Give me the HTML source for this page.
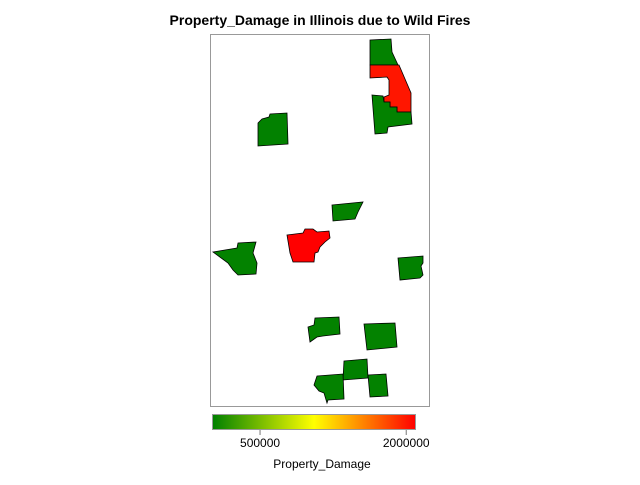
<!DOCTYPE html>
<html><head><meta charset="utf-8"><style>
body{margin:0;background:#fff;}
svg text{font-family:"Liberation Sans",Arial,sans-serif;}
</style></head><body>
<svg id="c" width="640" height="480" viewBox="0 0 640 480">
<defs><linearGradient id="g" x1="0" x2="1" y1="0" y2="0">
<stop offset="0" stop-color="#008000"/><stop offset="0.5" stop-color="#ffff00"/><stop offset="1" stop-color="#ff0000"/></linearGradient></defs>
<text x="320" y="25" text-anchor="middle" font-size="14" font-weight="bold">Property_Damage in Illinois due to Wild Fires</text>
<rect x="210.5" y="34.5" width="219" height="372" fill="#fff" stroke="#999"/>
<g id="counties"></g>
<rect x="212.5" y="414.5" width="203" height="15" fill="url(#g)" stroke="#999"/>
<g id="legend"></g>
<text x="322" y="468" text-anchor="middle" font-size="12">Property_Damage</text>
</svg>
<script>
const counties=["Lake","Cook","DuPage-Will","Peoria","McLean","Sangamon","Champaign-west","Adams","Vermilion","Madison","Effingham","Marion","Williamson","Pope"];
const values=[20000,2000000,20000,15000,25000,2090000,20000,15000,20000,20000,10000,25000,20000,20000];
const legendTicks=[500000,2000000];
const vMin=7000,vMax=2090000;
const shapes=[
"370,40 391,39 392,52 398,65 370,65",
"370,65 399,65 411,93 411,112 397,112 397,107 390,107 390,102 384,102 384,97 389,95 389,80 387,77 370,78",
"372,95 383,96 384,102 390,102 390,107 397,107 397,112 411,112 412,124 388,127 387,133 375,134",
"258,123 262,119 269,117 270,114 287,113 288,144 258,146",
"332,205 363,202 358,212 355,219 333,221",
"287,235 303,233 305,229 313,229 317,232 329,231 330,238 325,242 320,247 318,252 315,253 314,262 293,262 290,253",
"213,252 237,248 238,243 256,242 253,253 257,263 256,274 238,275 233,270 228,263",
"398,258 423,256 423,263 421,266 423,275 420,278 400,280",
"315,318 339,317 340,334 323,336 317,337 310,342 308,327 314,325",
"364,324 395,323 397,347 367,350",
"344,361 367,359 368,378 343,380",
"317,376 343,374 344,399 328,400 327,403 324,393 319,391 314,385",
"368,375 386,374 388,396 370,397"
];
function lerp(a,b,t){return Math.round(a+(b-a)*t);}
function color(v){let t=Math.max(0,Math.min(1,(v-vMin)/(vMax-vMin)));
 if(t<0.5){let u=t/0.5;return `rgb(${lerp(0,255,u)},${lerp(128,255,u)},0)`;}
 let u=(t-0.5)/0.5;return `rgb(255,${lerp(255,0,u)},0)`;}
function xLeg(v){return 212+(v-vMin)/(vMax-vMin)*203;}
const NS="http://www.w3.org/2000/svg";
const g=document.getElementById('counties');
shapes.forEach((s,i)=>{
 const p=document.createElementNS(NS,'polygon');
 p.setAttribute('points',s);
 p.setAttribute('fill',color(values[i]));
 p.setAttribute('stroke','#000');p.setAttribute('stroke-width','0.8');
 
 
 g.appendChild(p);
});
const lg=document.getElementById('legend');
legendTicks.forEach(v=>{
 const x=xLeg(v);
 const l=document.createElementNS(NS,'line');
 l.setAttribute('x1',x);l.setAttribute('x2',x);l.setAttribute('y1',430);l.setAttribute('y2',435);l.setAttribute('stroke','#777');
 
 
 lg.appendChild(l);
 const t=document.createElementNS(NS,'text');
 t.setAttribute('x',x);t.setAttribute('y',447);t.setAttribute('text-anchor','middle');t.setAttribute('font-size','12');
 t.textContent=v;
 
 
 lg.appendChild(t);
});
</script>
</body></html>
